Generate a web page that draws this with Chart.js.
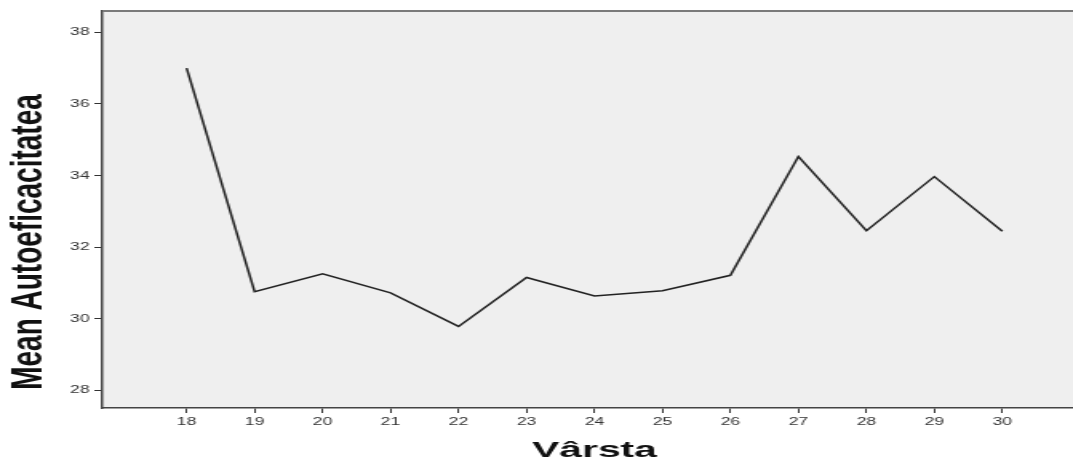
<!DOCTYPE html>
<html>
<head>
<meta charset="utf-8">
<script src="https://cdn.jsdelivr.net/npm/chart.js@4/dist/chart.umd.min.js"></script>
<style>
  html, body { margin: 0; padding: 0; background: #fff; overflow: hidden; }
  /* the plot is drawn narrow, then stretched sideways to fill the page */
  #wrap {
    position: absolute; left: 0; top: 0;
    width: 671px; height: 459px;
    transform: scaleX(1.5991); transform-origin: 0 0;
  }
</style>
</head>
<body>
<div id="wrap"><canvas id="ageChart" width="671" height="459"></canvas></div>
<script>
// Mean self-efficacy by age
const ages = [18, 19, 20, 21, 22, 23, 24, 25, 26, 27, 28, 29, 30];
const meanValues = [37.0, 30.75, 31.25, 30.72, 29.78, 31.15, 30.63, 30.78, 31.21, 34.53, 32.46, 33.97, 32.44];
const yTickValues = [28, 30, 32, 34, 36, 38];

const yTitle = "Mean Autoeficacitatea";
const xTitle = "Vârsta";

const plotBackground = {
  id: "plotBackground",
  beforeDraw(chart) {
    const { ctx, chartArea: a } = chart;
    ctx.save();
    ctx.fillStyle = "#efefef";
    ctx.fillRect(a.left, a.top, a.right - a.left, a.bottom - a.top);
    ctx.restore();
  },
  afterDraw(chart) {
    const { ctx, chartArea: a } = chart;
    ctx.save();
    // top frame line
    ctx.strokeStyle = "#7a7a7a";
    ctx.lineWidth = 2;
    ctx.beginPath();
    ctx.moveTo(a.left, a.top);
    ctx.lineTo(a.right, a.top);
    ctx.stroke();

    ctx.fillStyle = "#111";
    // y axis title, rotated
    ctx.save();
    ctx.translate(26.3, 242);
    ctx.rotate(-Math.PI / 2);
    ctx.font = "bold 28px 'Liberation Sans', Arial, sans-serif";
    ctx.textAlign = "center";
    ctx.textBaseline = "alphabetic";
    ctx.fillText(yTitle, 0, 0);
    ctx.restore();

    // x axis title
    ctx.save();
    ctx.translate(371.8, 457);
    ctx.scale(1.16, 1);
    ctx.font = "bold 22px 'Liberation Sans', Arial, sans-serif";
    ctx.textAlign = "center";
    ctx.textBaseline = "alphabetic";
    ctx.fillText(xTitle, 0, 0);
    ctx.restore();
    ctx.restore();
  }
};

const tickFont = { family: "'Liberation Sans', Arial, sans-serif", size: 11 };

new Chart(document.getElementById("ageChart"), {
  type: "line",
  data: {
    datasets: [{
      data: ages.map((a, i) => ({ x: a, y: meanValues[i] })),
      borderColor: "#222",
      borderWidth: 1.5,
      pointRadius: 0,
      tension: 0,
      fill: false
    }]
  },
  options: {
    responsive: false,
    animation: false,
    layout: { padding: { top: 11, right: 0, left: 0, bottom: 0 } },
    plugins: { legend: { display: false }, tooltip: { enabled: false } },
    scales: {
      x: {
        type: "linear",
        min: 16.76,
        max: 31.04,
        afterFit(scale) { scale.height = 51; },
        afterBuildTicks(scale) { scale.ticks = ages.map(v => ({ value: v })); },
        border: { display: true, color: "#444", width: 1.5 },
        grid: { drawOnChartArea: false, drawTicks: true, tickLength: 5, tickColor: "#333", tickWidth: 1 },
        ticks: { color: "#333", font: tickFont, padding: 2, maxRotation: 0, autoSkip: false }
      },
      y: {
        min: 27.5,
        max: 38.6,
        afterFit(scale) { scale.width = 64; },
        afterBuildTicks(scale) { scale.ticks = yTickValues.map(v => ({ value: v })); },
        border: { display: true, color: "#444", width: 1.5 },
        grid: { drawOnChartArea: false, drawTicks: true, tickLength: 5, tickColor: "#333", tickWidth: 1 },
        ticks: { color: "#333", font: tickFont, padding: 3 }
      }
    }
  },
  plugins: [plotBackground]
});
</script>
</body>
</html>
